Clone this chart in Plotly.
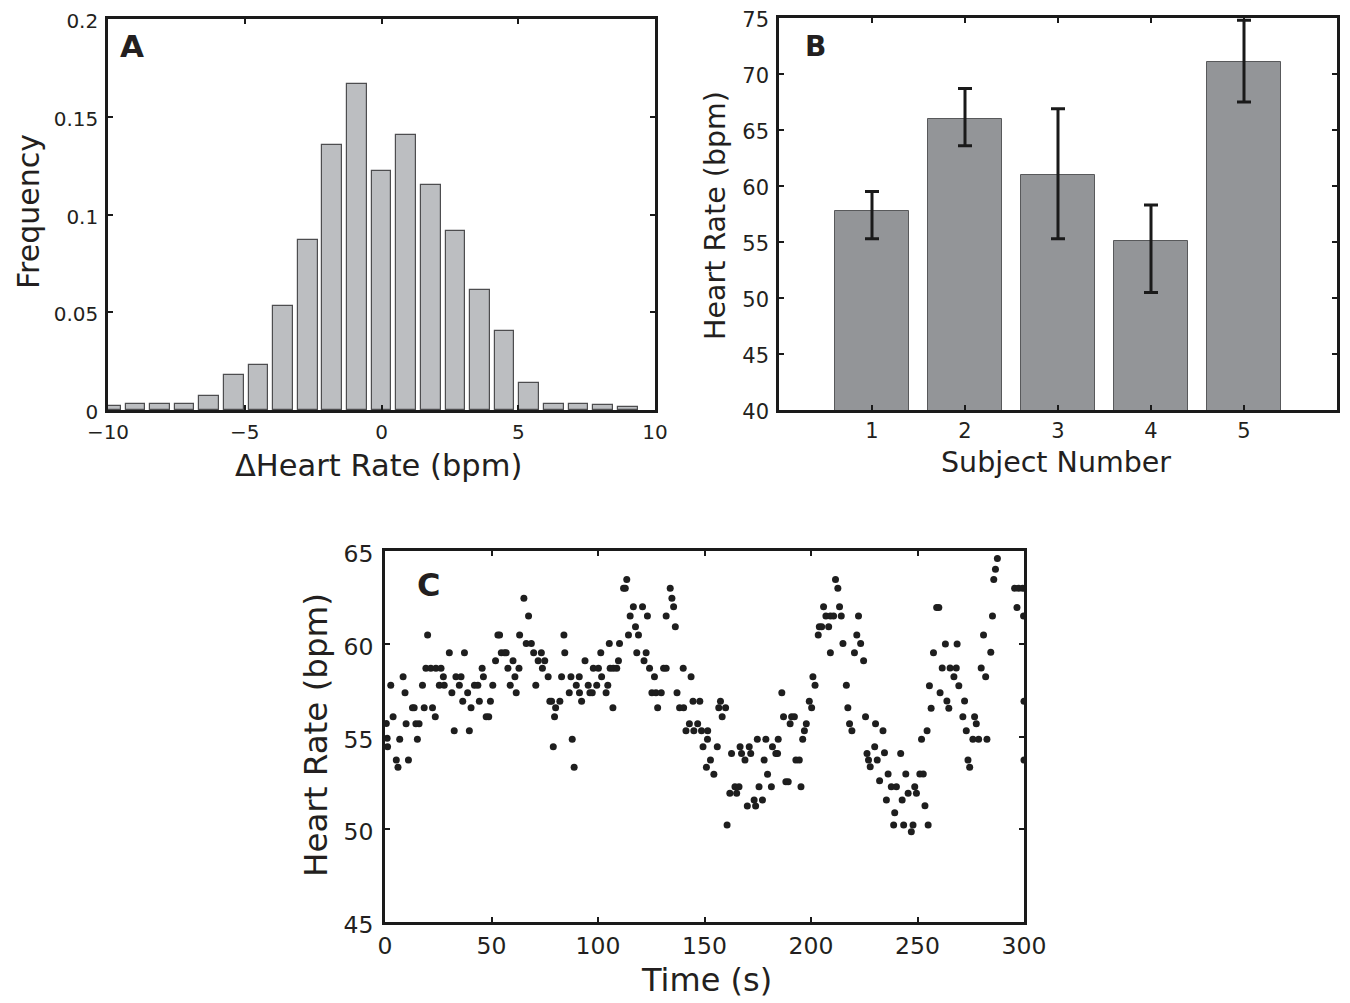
import plotly.graph_objects as go

W, H = 1350, 1003
OFF = 8  # the page body adds an 8px margin around the figure

# ---------------- Panel A data: histogram of heart-rate differences ----------------
delta_hr_centers = [-9.9, -9.0, -8.1, -7.2, -6.3, -5.4, -4.5, -3.6, -2.7, -1.8, -0.9,
                    0.0, 0.9, 1.8, 2.7, 3.6, 4.5, 5.4, 6.3, 7.2, 8.1, 9.0]
delta_hr_freq = [0.002, 0.003, 0.003, 0.003, 0.0073, 0.0177, 0.0232, 0.053, 0.087, 0.1356, 0.167,
                 0.122, 0.1406, 0.115, 0.0914, 0.0613, 0.0406, 0.0136, 0.0032, 0.0032, 0.0025, 0.0016]
a_xticks = [-10, -5, 0, 5, 10]
a_yticks = [0, 0.05, 0.1, 0.15, 0.2]
a_yticklabels = ["0", "0.05", "0.1", "0.15", "0.2"]

# ---------------- Panel B data: mean heart rate per subject ----------------
subjects = [1, 2, 3, 4, 5]
mean_hr = [57.8, 66.0, 61.0, 55.1, 71.1]
err_plus = [1.7, 2.7, 5.9, 3.2, 3.7]
err_minus = [2.5, 2.4, 5.7, 4.6, 3.6]
b_yticks = [40, 45, 50, 55, 60, 65, 70, 75]

# ---------------- Panel C data: heart rate over time ----------------
time_s = [
    0.6, 1.0, 1.2, 2.7, 3.8, 5.3, 6.1, 6.9, 8.5, 9.4, 9.9, 11.0, 12.9, 13.7, 14.5, 15.2, 16.0,
    17.6, 18.4, 19.2, 20.0, 21.5, 22.3, 23.6, 23.9, 25.5, 26.3, 27.4, 27.8, 30.2, 31.4, 32.5,
    33.3, 34.9, 35.7, 36.5, 37.3, 38.8, 39.6, 40.4, 42.0, 43.6, 44.3, 45.6, 46.2, 47.5, 48.7,
    49.5, 50.6, 51.9, 53.0, 53.8, 54.6, 56.1, 56.9, 57.7, 58.8, 60.1, 61.0, 61.6, 62.9, 63.2,
    65.2, 66.3, 67.4, 68.7, 69.8, 70.8, 71.9, 73.4, 73.9, 75.0, 76.6, 77.4,
    78.2, 79.0, 79.6, 80.1, 82.1, 82.9, 84.0, 84.4, 86.5, 87.3, 87.9, 88.8, 89.8, 91.2, 91.3,
    92.3, 93.9, 95.4, 96.2, 97.3, 97.8, 99.4, 100.2, 101.3, 101.7, 103.8, 104.6, 105.3, 105.7,
    107.0, 107.2, 108.8, 109.6, 110.1, 112.0, 112.8, 113.5, 114.3, 115.1, 116.6, 117.6, 118.2,
    119.0, 120.9, 121.6, 122.6, 123.2, 124.2, 125.3, 126.5, 127.2, 128.0, 129.7, 130.8, 132.0,
    132.0, 133.9, 134.7, 135.5, 136.3, 137.1, 138.3, 140.0, 140.2, 141.3, 142.9, 143.7, 144.6,
    145.0, 146.8, 147.8, 148.6, 149.3, 150.9, 151.4, 151.5, 152.8,
    154.4, 156.0, 156.7, 157.5, 158.3, 159.9, 160.6, 161.9, 162.7, 164.3, 165.1, 166.2, 166.7,
    167.4, 169.0, 170.1, 171.0, 171.7, 173.3, 174.0, 174.8, 175.6, 177.2, 178.0, 178.8, 179.6,
    181.4, 181.9, 183.5, 184.3, 184.6, 186.3, 187.1, 188.2, 189.3, 190.2, 190.9, 192.2, 192.9,
    194.5, 195.3, 196.1, 196.9, 197.8, 199.2, 200.3, 200.9, 201.9, 203.4, 203.9, 205.0, 205.9,
    207.0, 208.3, 209.1, 209.1, 210.6, 211.5, 212.6, 213.4, 214.2, 215.0, 216.6, 217.3, 218.1,
    219.2, 220.4, 221.5, 222.3, 223.3, 224.7, 225.6, 226.3, 227.0, 227.8,
    229.9, 230.3, 231.1, 232.2, 233.8, 234.5, 235.4, 236.2, 237.7, 238.8, 239.3, 240.1, 242.1,
    242.8, 243.5, 244.5, 245.6, 247.1, 247.9, 248.7, 249.5, 251.1, 251.9, 252.7, 253.5, 254.5,
    255.0, 255.6, 256.4, 257.5, 259.0, 260.0, 260.6, 261.6, 263.1, 263.8, 264.7, 265.3, 267.1,
    268.2, 268.6, 269.4, 271.3, 272.1, 272.9, 273.7, 274.5, 276.0, 276.8, 277.6, 278.7, 279.9,
    281.0, 282.0, 282.6, 284.4, 285.2, 285.8, 286.6, 287.5, 295.6, 296.7, 297.5, 299.4, 299.8,
    300.0, 300.0,
]
heart_rate_bpm = [
    55.7, 54.9, 54.45, 57.76, 56.07, 53.73, 53.34, 54.85, 58.22, 57.36, 55.69, 53.73, 56.55, 56.55, 55.69, 54.85, 55.69,
    57.76, 56.55, 58.68, 60.47, 58.68, 56.55, 56.07, 58.68, 57.76, 58.68, 58.22, 57.76, 59.52, 57.36, 55.31,
    58.22, 57.76, 58.22, 56.9, 59.52, 57.36, 55.31, 56.55, 57.76, 57.76, 56.9, 58.68, 58.22, 56.07, 56.07,
    56.9, 57.76, 59.09, 60.47, 60.47, 59.52, 59.52, 59.52, 58.68, 57.76, 59.09, 58.22, 57.36, 58.68, 60.47,
    62.45, 60.02, 61.5, 60.02, 59.52, 57.76, 59.09, 59.52, 58.68, 59.09, 58.22, 56.9,
    56.9, 54.45, 56.07, 56.55, 56.9, 58.22, 60.47, 59.52, 57.36, 58.22, 54.85, 53.34, 57.76, 58.22, 57.36,
    56.9, 59.09, 57.76, 57.36, 57.36, 58.68, 57.76, 58.68, 59.52, 58.22, 57.36, 57.76, 60.02, 58.68,
    56.55, 58.68, 58.68, 59.09, 60.02, 62.99, 62.99, 63.47, 60.47, 61.5, 62.0, 60.92, 59.52,
    60.47, 62.0, 59.09, 59.52, 61.5, 58.68, 57.36, 58.22, 57.36, 56.55, 57.36, 58.68, 58.68,
    61.5, 62.99, 62.45, 62.0, 60.92, 57.36, 56.55, 58.68, 56.55, 55.31, 55.69, 58.22, 56.9,
    55.31, 55.69, 56.9, 55.31, 54.45, 53.34, 54.85, 55.31, 53.73,
    52.96, 54.45, 56.55, 56.9, 56.07, 56.55, 50.23, 51.94, 54.09, 52.29, 51.94, 52.29, 54.45,
    54.09, 53.73, 51.25, 54.45, 54.09, 51.58, 51.25, 54.85, 52.29, 51.58, 53.73, 54.85, 52.96,
    52.29, 54.45, 54.09, 54.09, 54.85, 57.36, 56.07, 52.56, 52.56, 55.69, 56.07, 56.07, 53.73,
    53.73, 52.29, 54.85, 55.31, 55.69, 56.9, 56.55, 58.22, 57.76, 60.47, 60.92, 60.92, 62.0,
    61.5, 60.92, 61.5, 59.52, 61.5, 63.47, 62.99, 62.0, 61.5, 60.02, 57.76, 56.55, 55.69,
    55.31, 59.52, 60.47, 61.5, 60.02, 59.09, 56.07, 54.09, 53.73, 53.37,
    54.45, 55.69, 53.73, 52.62, 55.31, 54.13, 51.58, 52.98, 52.29, 50.23, 50.89, 52.29, 54.09,
    51.58, 50.23, 52.98, 51.94, 49.87, 50.23, 52.29, 51.94, 52.98, 54.85, 52.98, 51.27, 55.31,
    50.23, 57.74, 56.52, 59.52, 61.96, 61.96, 57.36, 58.69, 59.99, 56.91, 56.52, 58.69, 58.22,
    58.69, 59.99, 57.74, 56.07, 56.91, 55.31, 53.73, 53.34, 54.85, 56.07, 55.69, 54.85, 58.69,
    60.47, 58.22, 54.85, 59.54, 61.5, 63.47, 64.01, 64.6, 62.99, 61.96, 62.99, 62.99, 61.5,
    56.9, 53.73,
]
c_xticks = [0, 50, 100, 150, 200, 250, 300]
c_yticks = [45, 50, 55, 60, 65]

# ---------------- styling ----------------
FONT = "DejaVu Sans, Liberation Sans, Arial, sans-serif"
TXT = "#231f20"
LINE = "#1a1a1a"


def px_x(x):
    return (x - OFF) / W


def px_y(y):
    return 1 - (y - OFF) / H


def axis(domain, rng, tickvals, size, ticktext=None, standoff=4, shift=0):
    d = dict(
        domain=domain, range=rng, tickmode="array", tickvals=tickvals,
        showline=True, linewidth=2.6, linecolor=LINE, mirror="ticks",
        ticks="inside", ticklen=5, tickwidth=2, tickcolor=LINE,
        showgrid=False, zeroline=False, fixedrange=True, automargin=False,
        tickfont=dict(family=FONT, size=size, color=TXT),
        ticklabelstandoff=standoff, ticklabelshift=shift, ticklabeloverflow="allow",
    )
    if ticktext is not None:
        d["ticktext"] = ticktext
    return d


fig = go.Figure()

fig.add_trace(go.Bar(
    x=delta_hr_centers, y=delta_hr_freq, width=0.72,
    marker=dict(color="#bcbec1", line=dict(color="#4d4d4f", width=1.2)),
    xaxis="x", yaxis="y", hoverinfo="x+y",
))

fig.add_trace(go.Bar(
    x=subjects, y=mean_hr, width=0.8,
    marker=dict(color="#939598", line=dict(color="#58595b", width=1)),
    error_y=dict(type="data", symmetric=False, array=err_plus, arrayminus=err_minus,
                 thickness=3, width=7, color=LINE),
    xaxis="x2", yaxis="y2",
))

fig.add_trace(go.Scatter(
    x=time_s, y=heart_rate_bpm, mode="markers",
    marker=dict(color="#1e1e1e", size=7, line=dict(width=0)),
    xaxis="x3", yaxis="y3", cliponaxis=True,
))

fig.update_layout(
    template="none",
    width=W, height=H,
    margin=dict(l=0, r=0, t=0, b=0, pad=0, autoexpand=False),
    paper_bgcolor="white", plot_bgcolor="white",
    showlegend=False, bargap=0,
    font=dict(family=FONT, color=TXT),
    xaxis=axis([px_x(108), px_x(655)], [-10, 10], a_xticks, 20, standoff=2),
    yaxis=axis([px_y(410), px_y(19)], [0, 0.2], a_yticks, 20, a_yticklabels, standoff=3, shift=2),
    xaxis2=axis([px_x(779), px_x(1337)], [0, 6], subjects, 21, standoff=0),
    yaxis2=axis([px_y(410), px_y(18)], [40, 75], b_yticks, 21, standoff=3, shift=2),
    xaxis3=axis([px_x(385), px_x(1024)], [0, 300], c_xticks, 23.5, standoff=1),
    yaxis3=axis([px_y(922), px_y(551)], [45, 65], c_yticks, 23.5, standoff=4, shift=3),
)
fig.update_layout(
    xaxis=dict(anchor="y"), yaxis=dict(anchor="x"),
    xaxis2=dict(anchor="y2"), yaxis2=dict(anchor="x2"),
    xaxis3=dict(anchor="y3"), yaxis3=dict(anchor="x3"),
)


def note(text, x, y, size, bold=False, angle=0):
    fig.add_annotation(
        text=f"<b>{text}</b>" if bold else text,
        x=px_x(x), y=px_y(y), xref="paper", yref="paper",
        xanchor="center", yanchor="middle", showarrow=False, textangle=angle,
        font=dict(family=FONT, size=size, color=TXT),
    )


note("A", 132, 46, 31, bold=True)
note("B", 815, 47, 28, bold=True)
note("C", 428, 585, 32, bold=True)

note("ΔHeart Rate (bpm)", 379, 465, 30.5)
note("Frequency", 28, 212, 30, angle=-90)
note("Subject Number", 1056, 462, 28.5)
note("Heart Rate (bpm)", 716, 216, 28.5, angle=-90)
note("Time (s)", 706, 980, 32)
note("Heart Rate (bpm)", 316, 735, 32.5, angle=-90)

fig.write_html("out.html")
